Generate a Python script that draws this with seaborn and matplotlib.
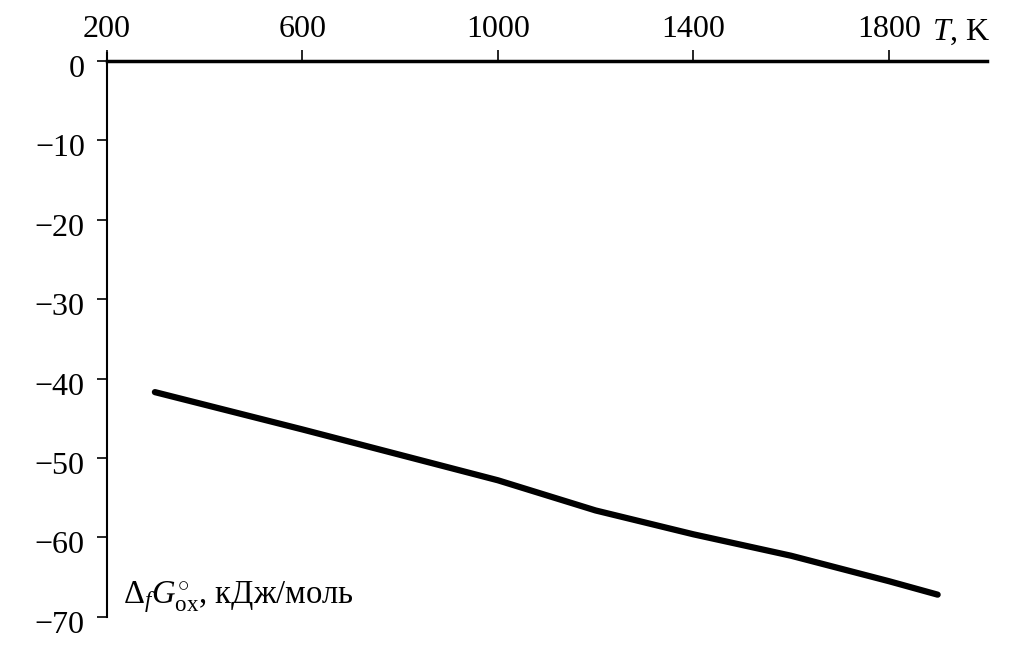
import numpy as np
import pandas as pd
import matplotlib
matplotlib.use('Agg')
import matplotlib.pyplot as plt
import matplotlib.transforms as mtransforms
import seaborn as sns

# values
temperature = [298, 600, 800, 1000, 1200, 1400, 1600, 1800, 1900]
gibbs_energy = [-41.7, -46.4, -49.6, -52.8, -56.6, -59.6, -62.3, -65.5, -67.2]
x_ticks = [200, 600, 1000, 1400, 1800]
y_ticks = [0, -10, -20, -30, -40, -50, -60, -70]

sns.set_style('ticks')
plt.rcParams['font.family'] = ['Liberation Serif', 'DejaVu Serif']
plt.rcParams['mathtext.fontset'] = 'custom'
plt.rcParams['mathtext.rm'] = 'Liberation Serif'
plt.rcParams['mathtext.it'] = 'Liberation Serif:italic'
plt.rcParams['axes.unicode_minus'] = True
plt.rcParams['text.color'] = 'black'
plt.rcParams['axes.edgecolor'] = 'black'
plt.rcParams['xtick.color'] = 'black'
plt.rcParams['ytick.color'] = 'black'

df = pd.DataFrame({'T': temperature, 'G': gibbs_energy})

fig = plt.figure(figsize=(10.33, 6.48), dpi=100)
ax = fig.add_axes([0.1036, 0.048, 0.8514, 0.858])

sns.lineplot(data=df, x='T', y='G', color='black', linewidth=4.5,
             solid_capstyle='round', ax=ax)

ax.set_xlim(200, 2000)
ax.set_ylim(-70, 0)
ax.xaxis.tick_top()
ax.set_xticks(x_ticks)
ax.set_yticks(y_ticks)
ax.set_yticklabels(['0'] + ['\u2212' + str(-v) for v in y_ticks[1:]])
ax.tick_params(axis='x', direction='out', length=8, width=1.2, labelsize=23, pad=4)
ax.tick_params(axis='y', direction='out', length=7, width=1.2, labelsize=23, pad=9)

# y tick labels sit a little below their ticks in the reference
shift = mtransforms.ScaledTranslation(0, -5 / 100, fig.dpi_scale_trans)
for lbl in ax.get_yticklabels():
    lbl.set_transform(lbl.get_transform() + shift)

ax.spines['bottom'].set_visible(False)
ax.spines['right'].set_visible(False)
ax.spines['top'].set_linewidth(2.5)
ax.spines['left'].set_linewidth(1.5)
ax.spines['left'].set_bounds(-70, 1.0)

ax.set_xlabel('')
ax.set_ylabel('')
ax.text(0.9375, 1.038, r'$T$, K', transform=ax.transAxes, fontsize=23,
        ha='left', va='baseline')
ax.text(0.018, 0.025, r'$\Delta_f G^{\circ}_{\mathrm{ox}}$, кДж/моль',
        transform=ax.transAxes, fontsize=23.5, ha='left', va='baseline')

fig.savefig('out.png', dpi=100)
